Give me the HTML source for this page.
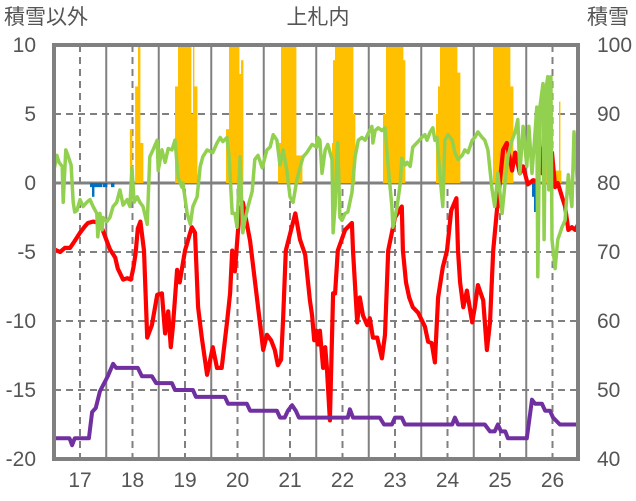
<!DOCTYPE html>
<html><head><meta charset="utf-8"><style>
body{margin:0;background:#fff;}
svg{display:block;font-family:"Liberation Sans","Noto Sans CJK JP",sans-serif;}
</style></head><body>
<svg id="chart" width="636" height="501" viewBox="0 0 636 501" xmlns="http://www.w3.org/2000/svg">
<defs><clipPath id="pc"><rect x="54" y="45" width="524" height="414"/></clipPath></defs>
<g id="grid"></g>
<g id="bars" clip-path="url(#pc)"></g>
<g id="lines" clip-path="url(#pc)"></g>
<rect x="54" y="45" width="524" height="414" fill="none" stroke="#808080" stroke-width="4"/>
<g id="ticks" fill="#555" font-size="21"></g>
<text x="318" y="24" text-anchor="middle" font-size="21" fill="#555">上札内</text>
<text x="4" y="24" font-size="21" fill="#555">積雪以外</text>
<text x="587" y="24" font-size="21" fill="#555">積雪</text>
</svg>
<script>
const leftTicks=[10,5,0,-5,-10,-15,-20];
const rightTicks=[100,90,80,70,60,50,40];
const xTicks=[17,18,19,20,21,22,23,24,25,26];
const orangeStart=[17.95,18.05,18.105,18.143,18.81,18.867,19.114,19.152,19.171,19.781,19.838,20.029,20.067,20.771,20.829,21.114,21.8,21.819,21.857,22.2,22.771,22.829,23.152,23.781,23.819,23.857,24.181,24.867,25.19,25.857,26.048,26.124,26.143];
const orangeEnd=[17.99,18.105,18.143,18.2,18.867,19.114,19.152,19.171,19.229,19.838,20.029,20.067,20.105,20.829,21.114,21.229,21.819,21.857,22.2,22.238,22.829,23.152,23.19,23.819,23.857,24.181,24.238,25.19,25.248,25.895,26.124,26.143,26.162];
const orangeValue=[3.9,7,12,2.9,7,12,5,12,7,3.9,12,7.9,8.9,2.9,12,2,2.9,8.9,12,5,5,12,8.9,5,7,12,8,12,7,7,0.9,5.9,0.9];
const blueStart=[17.19,17.229,17.267,17.438,17.59,25.61,25.648];
const blueEnd=[17.229,17.267,17.419,17.514,17.648,25.648,25.705];
const blueValue=[-0.3,-1,-0.3,-0.3,-0.3,-1,-2.1];
const redT=[16.5,16.62,16.71,16.81,16.9,17.0,17.1,17.15,17.25,17.38,17.43,17.57,17.67,17.72,17.82,17.9,17.97,18.02,18.06,18.1,18.15,18.22,18.28,18.37,18.47,18.56,18.62,18.68,18.73,18.77,18.85,18.9,18.96,19.0,19.13,19.19,19.25,19.32,19.42,19.53,19.61,19.7,19.8,19.86,19.9,19.95,20.03,20.1,20.24,20.36,20.49,20.56,20.64,20.71,20.77,20.83,20.87,20.92,21.1,21.19,21.29,21.38,21.42,21.46,21.5,21.53,21.57,21.63,21.67,21.7,21.76,21.82,21.86,21.91,22.05,22.18,22.2,22.28,22.33,22.39,22.47,22.52,22.58,22.66,22.75,22.81,22.87,23.0,23.13,23.15,23.21,23.27,23.34,23.44,23.57,23.63,23.7,23.76,23.82,23.91,23.99,24.07,24.17,24.2,24.24,24.3,24.37,24.47,24.52,24.58,24.68,24.75,24.81,24.87,24.94,25.06,25.13,25.23,25.29,25.38,25.44,25.53,25.63,25.72,25.76,25.8,25.84,25.9,25.99,26.05,26.1,26.18,26.24,26.3,26.37,26.43,26.49];
const redV=[-4.8,-5.0,-4.7,-4.7,-4.2,-3.6,-3.1,-2.9,-2.8,-2.9,-3.4,-4.8,-5.4,-6.2,-7.0,-6.9,-7.0,-6.1,-5.1,-3.3,-2.8,-4.9,-11.2,-10.3,-8.1,-8.0,-10.9,-9.3,-11.9,-10.4,-6.3,-7.2,-5.8,-4.9,-3.2,-3.6,-9.0,-11.2,-13.9,-11.9,-13.4,-13.4,-10.1,-8.0,-4.9,-6.4,-2.4,-1.4,-4.2,-8.0,-12.1,-11.0,-11.4,-12.1,-13.2,-12.8,-9.7,-4.9,-2.2,-4.1,-5.2,-8.5,-9.6,-11.4,-10.7,-11.7,-10.7,-13.4,-11.9,-13.3,-17.2,-8.0,-8.0,-4.9,-3.4,-2.9,-4.9,-10.1,-8.3,-9.6,-10.3,-9.8,-11.2,-11.2,-12.7,-11.0,-4.9,-2.5,-1.7,-4.9,-7.2,-8.3,-9.0,-9.4,-10.4,-11.5,-11.6,-13.0,-8.3,-6.1,-4.9,-2.0,-1.1,-4.9,-7.2,-9.0,-7.8,-10.1,-9.0,-7.4,-8.5,-12.1,-10.1,-4.9,-2.0,2.4,2.9,0.9,2.2,0.7,1.2,-0.1,0.2,0.1,2.5,0.7,3.6,1.9,2.2,-0.3,0,-1.0,-1.7,-3.4,-3.2,-3.4,-3.0];
const greenT=[16.5,16.56,16.6,16.66,16.68,16.73,16.77,16.83,16.87,16.9,16.94,17.0,17.06,17.13,17.19,17.25,17.32,17.34,17.38,17.42,17.44,17.51,17.57,17.63,17.7,17.76,17.82,17.9,17.95,17.99,18.03,18.09,18.14,18.2,18.28,18.33,18.39,18.47,18.49,18.56,18.62,18.68,18.75,18.81,18.87,18.94,18.96,19.04,19.1,19.15,19.23,19.29,19.34,19.42,19.53,19.61,19.67,19.72,19.8,19.84,19.9,19.95,19.99,20.05,20.1,20.14,20.2,20.28,20.33,20.39,20.47,20.56,20.62,20.68,20.75,20.81,20.87,20.94,21.0,21.06,21.13,21.19,21.25,21.32,21.42,21.51,21.53,21.57,21.61,21.67,21.72,21.8,21.82,21.86,21.9,21.91,21.95,21.99,22.05,22.1,22.18,22.24,22.3,22.37,22.43,22.49,22.56,22.58,22.62,22.68,22.75,22.81,22.87,22.94,22.96,23.04,23.1,23.13,23.19,23.23,23.29,23.34,23.44,23.51,23.57,23.61,23.67,23.72,23.76,23.8,23.86,23.91,23.95,24.01,24.09,24.14,24.2,24.28,24.33,24.39,24.47,24.52,24.58,24.66,24.71,24.77,24.85,24.9,24.96,25.04,25.1,25.15,25.23,25.29,25.34,25.38,25.44,25.51,25.55,25.61,25.67,25.7,25.72,25.76,25.82,25.84,25.87,25.91,25.93,25.97,25.99,26.05,26.1,26.18,26.24,26.3,26.37,26.41,26.47,26.49];
const greenV=[0.9,2.0,1.5,1.2,-1.4,2.4,2.0,1.3,-1.4,-2.1,-2.0,-1.2,-1.7,-1.4,-1.2,-1.7,-2.2,-3.9,-2.2,-3.4,-2.5,-2.8,-2.5,-1.7,-1.4,-0.5,-1.6,-1.2,-1.7,1.1,-1.4,-1.0,-1.4,-1.7,-3.0,1.9,2.4,3.1,0.9,2.4,1.5,2.5,2.4,3.1,0.4,-0.3,0,-2.2,-3.0,-1.7,-1.0,1.2,1.9,2.4,2.2,2.9,3.3,3.0,3.3,1.9,-2.2,-2.2,-3.2,1.9,-3.6,-2.7,-1.7,-0.6,1.7,2.0,1.1,2.4,2.6,3.5,3.1,1.3,2.4,0.9,-1.0,-1.4,0.2,1.1,1.9,2.2,2.8,2.6,3.3,3.1,0.7,2.4,2.8,1.7,-3.6,-1.7,2.4,2.9,-2.5,-2.7,-2.2,-2.1,-0.7,1.9,3.1,3.3,3.1,3.6,4.1,2.9,3.8,4.0,3.8,4.0,1.2,-1.7,-3.2,-1.7,0,1.8,1.3,1.5,1.2,2.6,3.0,3.3,3.5,3.1,3.7,4.0,3.1,3.3,0.4,-1.7,3.1,3.5,3.1,2.2,1.7,2.0,2.4,2.2,3.1,3.3,3.7,3.3,3.1,2.4,-0.5,-1.7,0.7,-2.2,0.2,1.9,3.1,3.7,4.6,0.7,4.1,1.2,4.1,0.7,3.8,5.5,-6.8,5.5,7.2,-4.1,6.7,7.7,-0.5,7.7,-4.1,-6.2,-4.1,-3.2,-2.7,0.6,-1.7,3.7,0.2,-3.2];
const purpleT=[16.5,16.8,16.85,16.9,17.17,17.23,17.3,17.38,17.46,17.53,17.63,17.69,18.1,18.18,18.37,18.45,18.75,18.81,19.15,19.21,19.76,19.82,20.18,20.24,20.75,20.81,20.9,20.96,21.04,21.11,21.17,22.1,22.14,22.2,22.71,22.79,22.94,23.0,23.13,23.19,24.09,24.14,24.2,24.71,24.81,24.9,24.96,25.02,25.1,25.15,25.51,25.61,25.67,25.8,25.86,25.95,26.01,26.14,26.49];
const purpleV=[-18.5,-18.5,-19.0,-18.5,-18.5,-16.6,-16.3,-15.1,-14.5,-14.0,-13.1,-13.4,-13.4,-14.0,-14.0,-14.5,-14.5,-15.0,-15.0,-15.5,-15.5,-16.0,-16.0,-16.5,-16.5,-17.0,-17.0,-16.5,-16.1,-16.5,-17.0,-17.0,-16.4,-17.0,-17.0,-17.5,-17.5,-17.0,-17.0,-17.5,-17.5,-17.0,-17.5,-17.5,-18.0,-18.0,-17.5,-18.0,-18.0,-18.5,-18.5,-15.7,-16.0,-16.0,-16.5,-16.5,-17.0,-17.5,-17.5];

const NS='http://www.w3.org/2000/svg';
const X0=54,X1=578,Y0=45,Y1=459;
function xs(t){return 80+(t-17)*52.5;}
function ys(v){return Y0+(10-v)*(Y1-Y0)/30;}
function yr(v){return Y0+(100-v)*(Y1-Y0)/60;}
function mk(tag,attrs,parent){const e=document.createElementNS(NS,tag);for(const k in attrs)e.setAttribute(k,attrs[k]);parent.appendChild(e);return e;}
const grid=document.getElementById('grid'),bars=document.getElementById('bars'),lines=document.getElementById('lines'),ticks=document.getElementById('ticks');
leftTicks.forEach(v=>{if(v===10||v===-20)return;
 const l=mk('line',{x1:X0,x2:X1,y1:ys(v),y2:ys(v),stroke:'#808080','stroke-width':v===0?3:2,'stroke-dasharray':v===0?'none':'7,5'},grid);
 
 });
xTicks.forEach(t=>{
 const d=mk('line',{x1:xs(t),x2:xs(t),y1:Y0,y2:Y1,stroke:'#808080','stroke-width':2,'stroke-dasharray':'7,5'},grid);
 
 
 const bx=xs(t+0.5);
 if(bx<X1-2){const s=mk('line',{x1:bx,x2:bx,y1:Y0,y2:Y1,stroke:'#808080','stroke-width':2},grid);
 
 }});
orangeValue.forEach((v,i)=>{const x=xs(orangeStart[i]),w=xs(orangeEnd[i])-x;
 const r=mk('rect',{x:x,y:ys(Math.max(v,0)),width:w+0.4,height:Math.abs(ys(v)-ys(0)),fill:'#FFC000'},bars);
 
 });
blueValue.forEach((v,i)=>{const x=xs(blueStart[i]),w=xs(blueEnd[i])-x;
 const r=mk('rect',{x:x,y:ys(0),width:w+0.4,height:ys(v)-ys(0),fill:'#0070C0'},bars);
 
 });
function line(T,V,color,w,name){const p=T.map((t,i)=>xs(t).toFixed(1)+','+ys(V[i]).toFixed(1)).join(' ');
 const e=mk('polyline',{points:p,fill:'none',stroke:color,'stroke-width':w,'stroke-linejoin':'round'},lines);
 
 }
line(redT,redV,'#FF0000',4.2,'red-series-line');
line(greenT,greenV,'#92D050',3.5,'green-series-line');
line(purpleT,purpleV,'#7030A0',4,'purple-series-line');
leftTicks.forEach(v=>{const e=mk('text',{x:36,y:ys(v)+7,'text-anchor':'end'},ticks);e.textContent=v;
 
 });
rightTicks.forEach(v=>{const e=mk('text',{x:597,y:yr(v)+7},ticks);e.textContent=v;
 
 });
xTicks.forEach(t=>{const e=mk('text',{x:xs(t),y:487,'text-anchor':'middle'},ticks);e.textContent=t;
 
 });
</script>
</body></html>
